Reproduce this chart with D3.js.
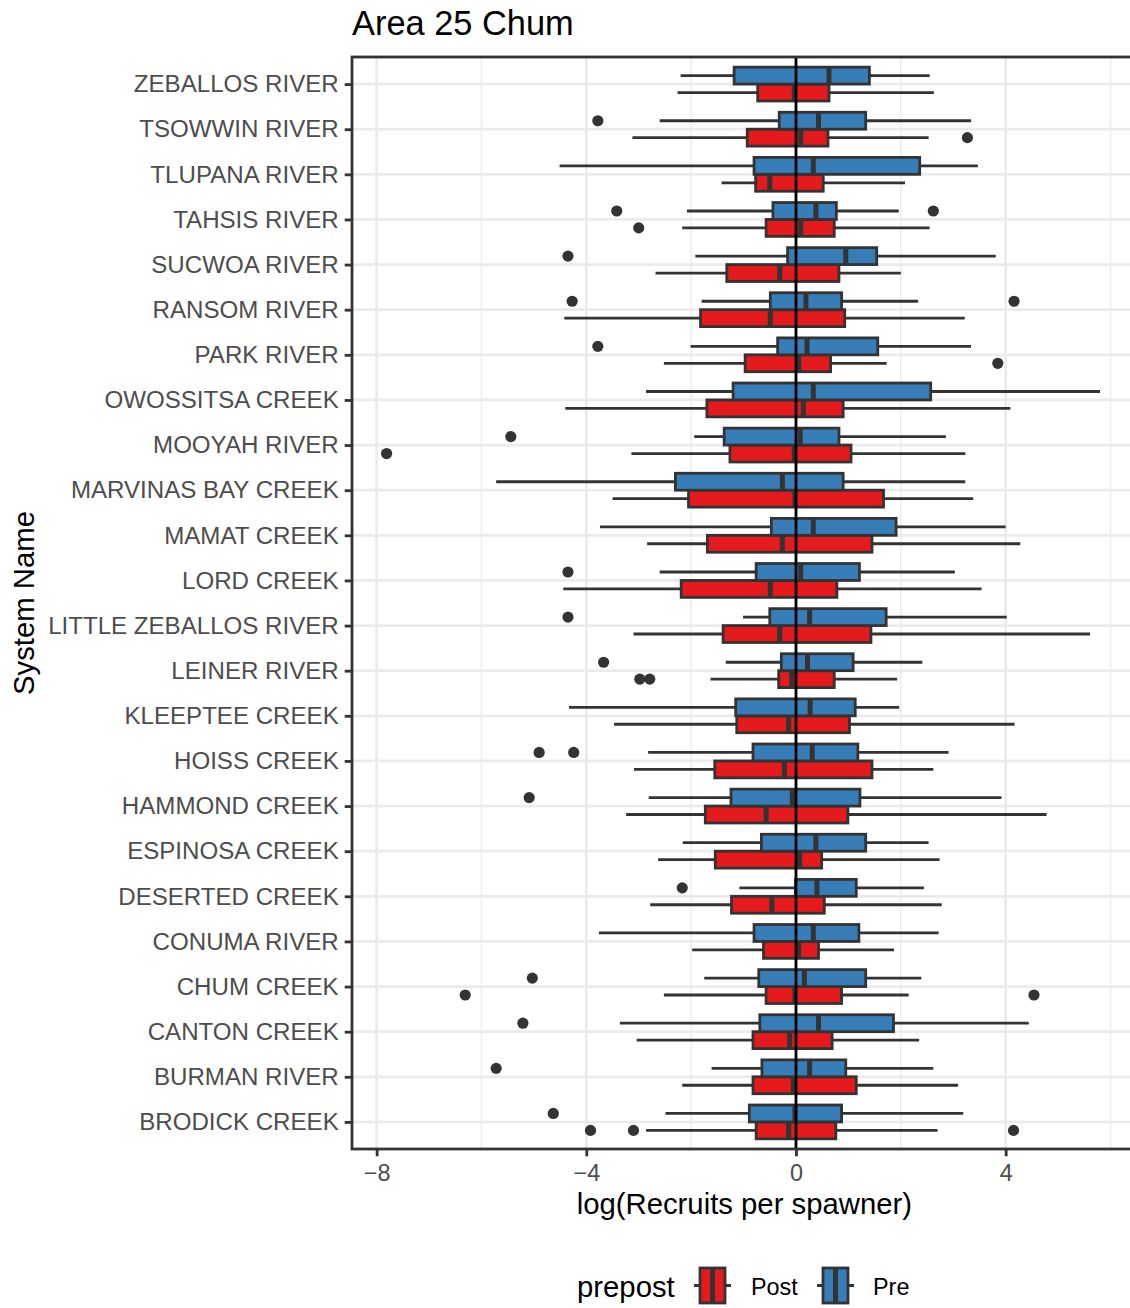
<!DOCTYPE html>
<html>
<head>
<meta charset="utf-8">
<script src="https://cdn.jsdelivr.net/npm/d3@7"></script>
<style>
  body { margin: 0; background: #fff; }
  svg { display: block; }
  text { font-family: "Liberation Sans", Arial, Helvetica, sans-serif; }
</style>
</head>
<body>
<svg id="chart" width="1130" height="1308"></svg>
<script>
// Spawning systems, listed top to bottom
const systems = [
  "ZEBALLOS RIVER", "TSOWWIN RIVER", "TLUPANA RIVER", "TAHSIS RIVER",
  "SUCWOA RIVER", "RANSOM RIVER", "PARK RIVER", "OWOSSITSA CREEK",
  "MOOYAH RIVER", "MARVINAS BAY CREEK", "MAMAT CREEK", "LORD CREEK",
  "LITTLE ZEBALLOS RIVER", "LEINER RIVER", "KLEEPTEE CREEK", "HOISS CREEK",
  "HAMMOND CREEK", "ESPINOSA CREEK", "DESERTED CREEK", "CONUMA RIVER",
  "CHUM CREEK", "CANTON CREEK", "BURMAN RIVER", "BRODICK CREEK"
];

// Box summaries: [lower whisker, Q1, median, Q3, upper whisker]
const preStats = [
  [-2.20, -1.18,  0.63, 1.40, 2.55],
  [-2.60, -0.32,  0.43, 1.33, 3.34],
  [-4.51, -0.80,  0.33, 2.36, 3.47],
  [-2.08, -0.44,  0.38, 0.77, 1.96],
  [-1.92, -0.16,  0.95, 1.54, 3.81],
  [-1.80, -0.49,  0.19, 0.87, 2.33],
  [-2.01, -0.35,  0.21, 1.56, 3.34],
  [-2.86, -1.20,  0.33, 2.57, 5.80],
  [-1.94, -1.37,  0.08, 0.82, 2.86],
  [-5.72, -2.30, -0.26, 0.90, 3.23],
  [-3.74, -0.47,  0.33, 1.91, 4.00],
  [-2.60, -0.76,  0.09, 1.21, 3.03],
  [-1.01, -0.50,  0.26, 1.72, 4.02],
  [-1.34, -0.28,  0.22, 1.09, 2.41],
  [-4.33, -1.15,  0.27, 1.13, 1.97],
  [-2.82, -0.82,  0.31, 1.18, 2.91],
  [-2.81, -1.24, -0.07, 1.22, 3.92],
  [-2.16, -0.66,  0.38, 1.33, 2.53],
  [-1.08, -0.01,  0.40, 1.15, 2.44],
  [-3.76, -0.80,  0.33, 1.20, 2.72],
  [-1.75, -0.71,  0.16, 1.33, 2.39],
  [-3.36, -0.69,  0.43, 1.86, 4.44],
  [-1.61, -0.65,  0.26, 0.95, 2.62],
  [-2.49, -0.89, -0.02, 0.87, 3.19]
];

const postStats = [
  [-2.26, -0.73, -0.03, 0.63, 2.63],
  [-3.12, -0.93,  0.09, 0.61, 2.53],
  [-1.42, -0.77, -0.50, 0.52, 2.08],
  [-2.17, -0.57,  0.09, 0.73, 2.55],
  [-2.68, -1.32, -0.31, 0.82, 2.00],
  [-4.42, -1.82, -0.49, 0.93, 3.22],
  [-2.52, -0.97,  0.05, 0.66, 1.73],
  [-4.40, -1.70,  0.14, 0.90, 4.09],
  [-3.14, -1.26, -0.03, 1.05, 3.23],
  [-3.50, -2.05, -0.02, 1.67, 3.38],
  [-2.84, -1.69, -0.26, 1.45, 4.28],
  [-4.44, -2.19, -0.49, 0.78, 3.54],
  [-3.10, -1.39, -0.31, 1.43, 5.61],
  [-1.63, -0.33, -0.08, 0.73, 1.93],
  [-3.47, -1.13, -0.14, 1.02, 4.17],
  [-3.09, -1.55, -0.22, 1.45, 2.62],
  [-3.24, -1.73, -0.57, 0.99, 4.78],
  [-2.63, -1.54,  0.07, 0.49, 2.74],
  [-2.78, -1.23, -0.46, 0.54, 2.78],
  [-1.98, -0.62,  0.05, 0.43, 1.87],
  [-2.52, -0.57, -0.02, 0.87, 2.15],
  [-3.04, -0.82, -0.12, 0.69, 2.35],
  [-2.17, -0.82, -0.05, 1.15, 3.09],
  [-2.86, -0.76, -0.14, 0.76, 2.70]
];

// Points beyond the whiskers
const preOutliers = [
  [], [-3.78], [], [-3.42, 2.62], [-4.35], [-4.27, 4.16], [-3.78], [],
  [-5.44], [], [], [-4.35], [-4.35], [-3.67], [], [-4.90, -4.24],
  [-5.09], [], [-2.17], [], [-5.03], [-5.21], [-5.72], [-4.63]
];

const postOutliers = [
  [], [3.27], [], [-3.00], [], [], [3.85], [],
  [-7.81], [], [], [], [], [-2.98, -2.79], [], [],
  [], [], [], [], [-6.31, 4.54], [], [], [-3.92, -3.10, 4.15]
];

const groups = ["Post", "Pre"];
const groupColors = ["#E41A1C", "#377EB8"];
const xTicks = [-8, -4, 0, 4];
const xMinorTicks = [-6, -2, 2, 6];

// ---- layout ----
const panel = { left: 352, top: 57, right: 1136.7, bottom: 1149 };
const ink = "#333333";
const lw = 2.8;

const svg = d3.select("#chart");

const x = d3.scaleLinear().domain([-8.47, 6.5]).range([panel.left, panel.right]);
const y = d3.scalePoint().domain(systems).range([panel.top, panel.bottom]).padding(0.6);
const step = y.step();
const boxH = step * 0.375;
const dodge = { Pre: -step * 0.1875, Post: step * 0.1875 };
const color = d3.scaleOrdinal().domain(groups).range(groupColors);

// panel background and grid
svg.append("rect")
  .attr("x", panel.left).attr("y", panel.top)
  .attr("width", panel.right - panel.left).attr("height", panel.bottom - panel.top)
  .attr("fill", "#fff");

const grid = svg.append("g");
grid.selectAll("line.minor").data(xMinorTicks).join("line")
  .attr("x1", d => x(d)).attr("x2", d => x(d))
  .attr("y1", panel.top).attr("y2", panel.bottom)
  .attr("stroke", "#EBEBEB").attr("stroke-width", 1.4);
grid.selectAll("line.majorx").data(xTicks).join("line")
  .attr("x1", d => x(d)).attr("x2", d => x(d))
  .attr("y1", panel.top).attr("y2", panel.bottom)
  .attr("stroke", "#EBEBEB").attr("stroke-width", lw);
grid.selectAll("line.majory").data(systems).join("line")
  .attr("x1", panel.left).attr("x2", panel.right)
  .attr("y1", d => y(d)).attr("y2", d => y(d))
  .attr("stroke", "#EBEBEB").attr("stroke-width", lw);

// build box records
const boxes = [];
systems.forEach((s, i) => {
  boxes.push({ system: s, group: "Post", stats: postStats[i], out: postOutliers[i] });
  boxes.push({ system: s, group: "Pre", stats: preStats[i], out: preOutliers[i] });
});

const bx = svg.append("g").selectAll("g").data(boxes).join("g")
  .attr("transform", d => `translate(0,${y(d.system) + dodge[d.group]})`);

// whiskers
bx.append("line")
  .attr("x1", d => x(d.stats[0])).attr("x2", d => x(d.stats[1]))
  .attr("stroke", ink).attr("stroke-width", lw);
bx.append("line")
  .attr("x1", d => x(d.stats[3])).attr("x2", d => x(d.stats[4]))
  .attr("stroke", ink).attr("stroke-width", lw);
// box
bx.append("rect")
  .attr("x", d => x(d.stats[1])).attr("width", d => x(d.stats[3]) - x(d.stats[1]))
  .attr("y", -boxH / 2).attr("height", boxH)
  .attr("fill", d => color(d.group))
  .attr("stroke", ink).attr("stroke-width", lw);
// median
bx.append("line")
  .attr("x1", d => x(d.stats[2])).attr("x2", d => x(d.stats[2]))
  .attr("y1", -boxH / 2).attr("y2", boxH / 2)
  .attr("stroke", ink).attr("stroke-width", 5);
// outliers
bx.selectAll("circle").data(d => d.out).join("circle")
  .attr("cx", d => x(d)).attr("cy", 0).attr("r", 5.6)
  .attr("fill", ink);

// reference line at zero
svg.append("line")
  .attr("x1", x(0)).attr("x2", x(0))
  .attr("y1", panel.top).attr("y2", panel.bottom)
  .attr("stroke", "#000").attr("stroke-width", lw);

// panel border
svg.append("rect")
  .attr("x", panel.left).attr("y", panel.top)
  .attr("width", panel.right - panel.left).attr("height", panel.bottom - panel.top)
  .attr("fill", "none").attr("stroke", ink).attr("stroke-width", lw);

// axes
const fmt = d => d < 0 ? "\u2212" + Math.abs(d) : String(d);
const xAxis = svg.append("g")
  .attr("transform", `translate(0,${panel.bottom})`)
  .call(d3.axisBottom(x).tickValues(xTicks).tickFormat(fmt).tickSize(7.3).tickPadding(8));
const yAxis = svg.append("g")
  .attr("transform", `translate(${panel.left},0)`)
  .call(d3.axisLeft(y).tickSize(7.3).tickPadding(6));
[xAxis, yAxis].forEach(a => {
  a.select(".domain").remove();
  a.selectAll(".tick line").attr("stroke", ink).attr("stroke-width", lw);
  a.selectAll(".tick text")
    .attr("fill", "#4D4D4D").attr("font-size", "23.4px")
    .attr("font-family", "'Liberation Sans', Arial, sans-serif");
});
yAxis.selectAll(".tick text").attr("font-size", "24.1px");

// titles
svg.append("text")
  .attr("x", panel.left).attr("y", 35)
  .attr("font-size", "34.4px").attr("fill", "#000")
  .text("Area 25 Chum");

svg.append("text")
  .attr("x", (panel.left + panel.right) / 2).attr("y", 1214)
  .attr("text-anchor", "middle").attr("font-size", "29.3px").attr("fill", "#000")
  .text("log(Recruits per spawner)");

svg.append("text")
  .attr("transform", `translate(34,${(panel.top + panel.bottom) / 2}) rotate(-90)`)
  .attr("text-anchor", "middle").attr("font-size", "29.3px").attr("fill", "#000")
  .text("System Name");

// legend
const legend = svg.append("g");
legend.append("text")
  .attr("x", 577).attr("y", 1297)
  .attr("font-size", "29.3px").attr("fill", "#000")
  .text("prepost");

const keyX = { Post: 694, Pre: 817 };
const labelX = { Post: 751, Pre: 873 };
const keyTop = 1268, keyH = 35, keyW = 37, boxInset = 6;
groups.forEach(g => {
  const k = legend.append("g").attr("transform", `translate(${keyX[g]},${keyTop})`);
  k.append("line")
    .attr("x1", 0).attr("x2", keyW).attr("y1", keyH / 2).attr("y2", keyH / 2)
    .attr("stroke", ink).attr("stroke-width", lw);
  k.append("rect")
    .attr("x", boxInset).attr("y", 0)
    .attr("width", keyW - 2 * boxInset).attr("height", keyH)
    .attr("fill", color(g)).attr("stroke", ink).attr("stroke-width", lw);
  k.append("line")
    .attr("x1", keyW / 2).attr("x2", keyW / 2).attr("y1", 0).attr("y2", keyH)
    .attr("stroke", ink).attr("stroke-width", 5);
  legend.append("text")
    .attr("x", labelX[g]).attr("y", 1295)
    .attr("font-size", "23.4px").attr("fill", "#000")
    .text(g);
});
</script>
</body>
</html>
